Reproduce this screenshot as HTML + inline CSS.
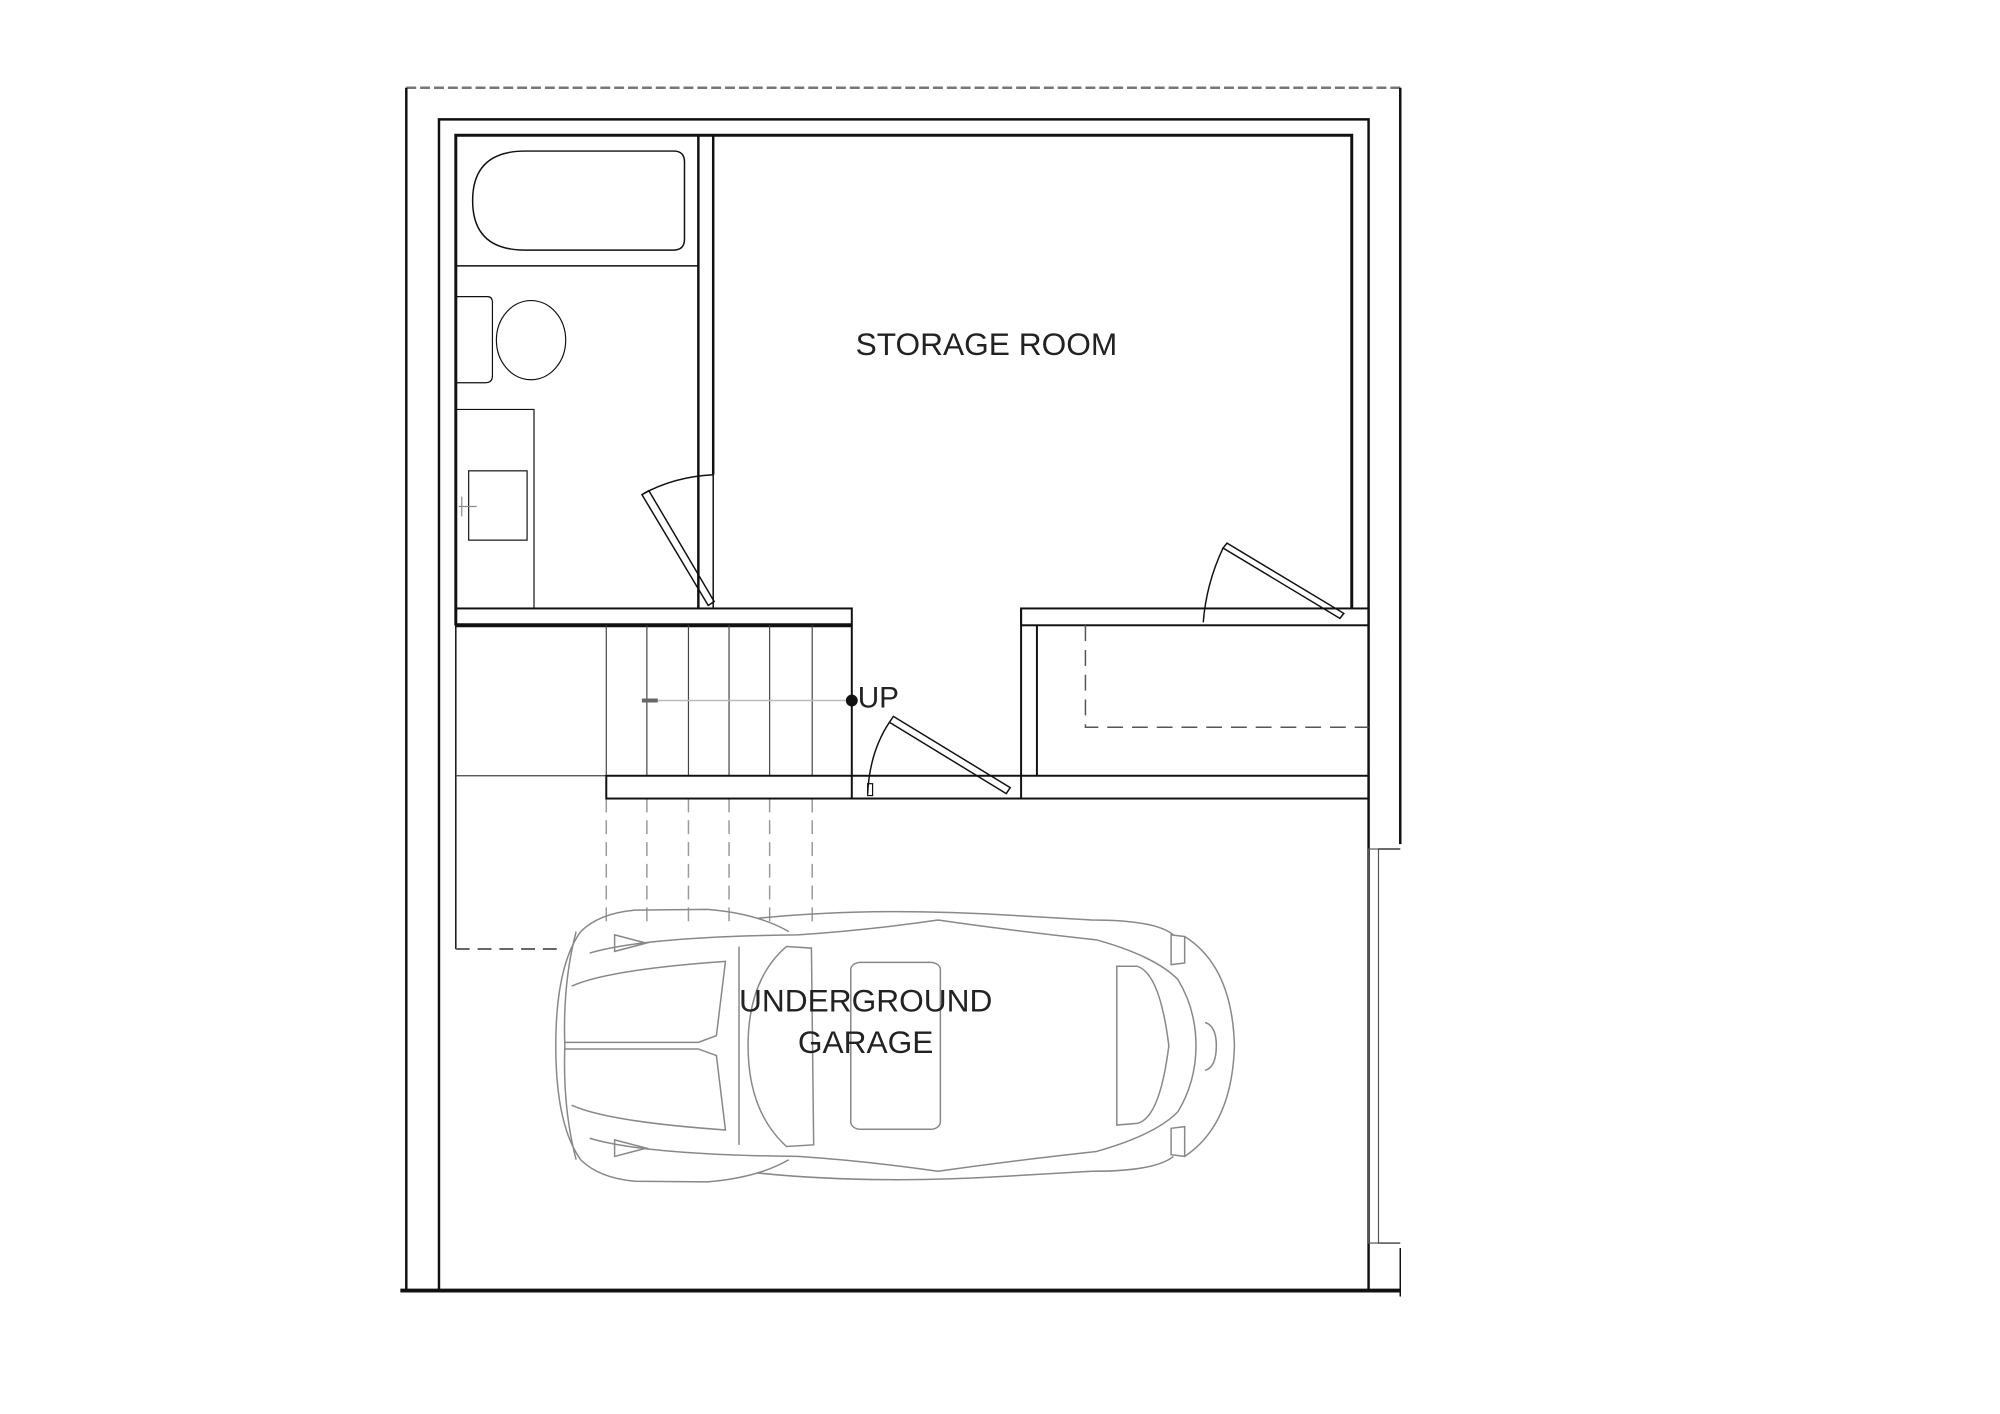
<!DOCTYPE html>
<html><head><meta charset="utf-8"><style>
html,body{margin:0;padding:0;background:#fff}
svg{display:block}
text{font-family:"Liberation Sans",sans-serif;fill:#222}
</style></head><body>
<svg width="2000" height="1414" viewBox="0 0 2000 1414" xmlns="http://www.w3.org/2000/svg">
<g transform="translate(0.4,-0.4) scale(0.99)">
<g fill="none" stroke="#111" stroke-width="2.5">
<line x1="410" y1="89" x2="1414" y2="89" stroke="#777" stroke-dasharray="10,4"/>
<line x1="410" y1="89" x2="410" y2="1304"/>
<line x1="1414" y1="89" x2="1414" y2="853"/>
<line x1="1414" y1="1261" x2="1414" y2="1310" stroke-width="1.5"/>
<line x1="404" y1="1304" x2="1414" y2="1304" stroke-width="4"/>
<polyline points="443,1304 443,121 1382,121 1382,1304"/>
<polyline points="460,632 460,137 1365,137 1365,615" stroke-width="3"/>
<line x1="705" y1="137" x2="705" y2="615"/>
<line x1="720" y1="137" x2="720" y2="480"/>
<line x1="720" y1="480" x2="720" y2="615" stroke-width="1.5"/>
<line x1="460" y1="269" x2="705" y2="269" stroke-width="1.5"/>
<path d="M530,153 L680,153 Q691,153 691,164 L691,242 Q691,253 680,253 L530,253 Q477,253 477,203 Q477,153 530,153 Z" stroke-width="1.5"/>
<path d="M461,300 L492,300 Q497,300 497,306 L497,380 Q497,387 490,387 L461,387" stroke-width="1.2"/>
<ellipse cx="536" cy="344" rx="35" ry="40" stroke-width="1.2"/>
<polyline points="460,414 539,414 539,614" stroke-width="1.2"/>
<rect x="473" y="476" width="59" height="70" stroke-width="1.2"/>
<path d="M466,502 v20 M463,512 h18" stroke-width="1.2" stroke="#888"/>
<path d="M715,612 L648,500 L655,496 L721,608 Z" stroke-width="1.5"/>
<path d="M648,500 Q680,482 720,480" stroke-width="1.5"/>
<rect x="460" y="615" width="400" height="17" stroke-width="2"/>
<line x1="460" y1="632" x2="860" y2="632" stroke-width="4"/>
<line x1="460" y1="632" x2="460" y2="959" stroke-width="1.5"/>
<g stroke-width="1.2" stroke="#444">
<line x1="612" y1="632" x2="612" y2="784"/><line x1="653" y1="632" x2="653" y2="784"/>
<line x1="695" y1="632" x2="695" y2="784"/><line x1="736" y1="632" x2="736" y2="784"/>
<line x1="777" y1="632" x2="777" y2="784"/><line x1="820" y1="632" x2="820" y2="784"/>
<line x1="460" y1="784" x2="612" y2="784"/>
</g>
<g stroke-width="1.5" stroke="#999" stroke-dasharray="14,8">
<line x1="612" y1="807" x2="612" y2="935"/><line x1="653" y1="807" x2="653" y2="935"/>
<line x1="695" y1="807" x2="695" y2="935"/><line x1="736" y1="807" x2="736" y2="935"/>
<line x1="777" y1="807" x2="777" y2="935"/><line x1="820" y1="807" x2="820" y2="935"/>
</g>
<line x1="460" y1="959" x2="570" y2="959" stroke="#666" stroke-width="2" stroke-dasharray="14,8"/>
<line x1="655" y1="708" x2="860" y2="708" stroke="#bbb" stroke-width="1.5"/>
<line x1="648" y1="708" x2="664" y2="708" stroke="#666" stroke-width="4"/>
<line x1="860" y1="632" x2="860" y2="807" stroke-width="2"/>
<rect x="612" y="784" width="770" height="23" stroke-width="2"/>
<line x1="1031" y1="615" x2="1031" y2="807" stroke-width="2"/>
<path d="M1016,802 L898,730 L902,724 L1020,796 Z" stroke-width="1.5"/>
<path d="M898,730 Q878,760 876,802" stroke-width="1.5"/>
<rect x="876" y="792" width="5" height="12" stroke-width="1.2"/>
<rect x="1031" y="615" width="351" height="17" stroke-width="2"/>
<line x1="1047" y1="632" x2="1047" y2="784" stroke-width="2"/>
<polyline points="1096,632 1096,735 1382,735" stroke="#555" stroke-width="1.5" stroke-dasharray="16,9"/>
<path d="M1353,625 L1235,554 L1239,549 L1357,620 Z" stroke-width="1.5"/>
<path d="M1235,554 Q1218,590 1215,629" stroke-width="1.5"/>
<rect x="1382" y="858" width="10" height="398" stroke-width="1.2" stroke="#555"/>
<line x1="1392" y1="858" x2="1414" y2="858" stroke-width="1.2"/>
<line x1="1392" y1="1256" x2="1414" y2="1256" stroke-width="1.2"/>
</g>
<circle cx="860" cy="708" r="6" fill="#111"/>
<g transform="translate(561,918) scale(0.457,0.334) translate(-5,-25)" fill="none" stroke="#888" stroke-width="1.5">
<path vector-effect="non-scaling-stroke" d="M60,95 Q100,40 180,30 L340,28 Q450,40 520,95"/>
<path vector-effect="non-scaling-stroke" d="M60,785 Q100,840 180,850 L340,852 Q450,840 520,785"/>
<path vector-effect="non-scaling-stroke" d="M450,55 Q700,20 1000,45 L1190,60 Q1330,60 1370,105"/>
<path vector-effect="non-scaling-stroke" d="M450,825 Q700,860 1000,835 L1190,820 Q1330,820 1370,775"/>
<path vector-effect="non-scaling-stroke" d="M60,95 Q5,200 5,440 Q5,680 60,785"/>
<path vector-effect="non-scaling-stroke" d="M80,160 Q200,110 540,105 Q700,90 850,60 Q1000,90 1200,120 Q1330,170 1380,240 Q1420,330 1420,440 Q1420,550 1380,640 Q1330,710 1200,760 Q1000,790 850,820 Q700,790 540,775 Q200,770 80,720"/>
<path vector-effect="non-scaling-stroke" d="M40,260 Q120,210 380,185 L360,410 L320,430 L25,430"/>
<path vector-effect="non-scaling-stroke" d="M40,620 Q120,670 380,695 L360,470 L320,450 L25,450"/>
<path vector-effect="non-scaling-stroke" d="M410,140 L410,740"/>
<path vector-effect="non-scaling-stroke" d="M515,140 L570,145 L575,740 L515,745 Q430,640 430,440 Q430,240 515,140 Z"/>
<rect vector-effect="non-scaling-stroke" x="657" y="188" width="198" height="505" rx="22"/>
<path vector-effect="non-scaling-stroke" d="M1245,200 L1290,200 Q1340,220 1360,440 Q1340,660 1290,675 L1245,680 Z"/>
<path vector-effect="non-scaling-stroke" d="M1365,105 L1395,110 L1395,190 L1365,195 Z M1365,690 L1395,685 L1395,775 L1365,770 Z"/>
<path vector-effect="non-scaling-stroke" d="M1395,110 Q1500,200 1505,440 Q1500,680 1395,775"/>
<path vector-effect="non-scaling-stroke" d="M1440,370 Q1465,380 1465,440 Q1465,505 1440,515"/>
<path vector-effect="non-scaling-stroke" d="M135,105 L205,130 L135,155 Z M135,725 L205,750 L135,775 Z"/>
<path vector-effect="non-scaling-stroke" d="M50,95 Q20,250 25,440 Q20,630 50,785"/>
</g>
<text x="996" y="359" font-size="32" text-anchor="middle">STORAGE ROOM</text>
<text x="874" y="1022" font-size="32" text-anchor="middle">UNDERGROUND</text>
<text x="874" y="1064" font-size="32" text-anchor="middle">GARAGE</text>
<text x="866" y="715" font-size="30">UP</text>
</g>
</svg>
</body></html>
